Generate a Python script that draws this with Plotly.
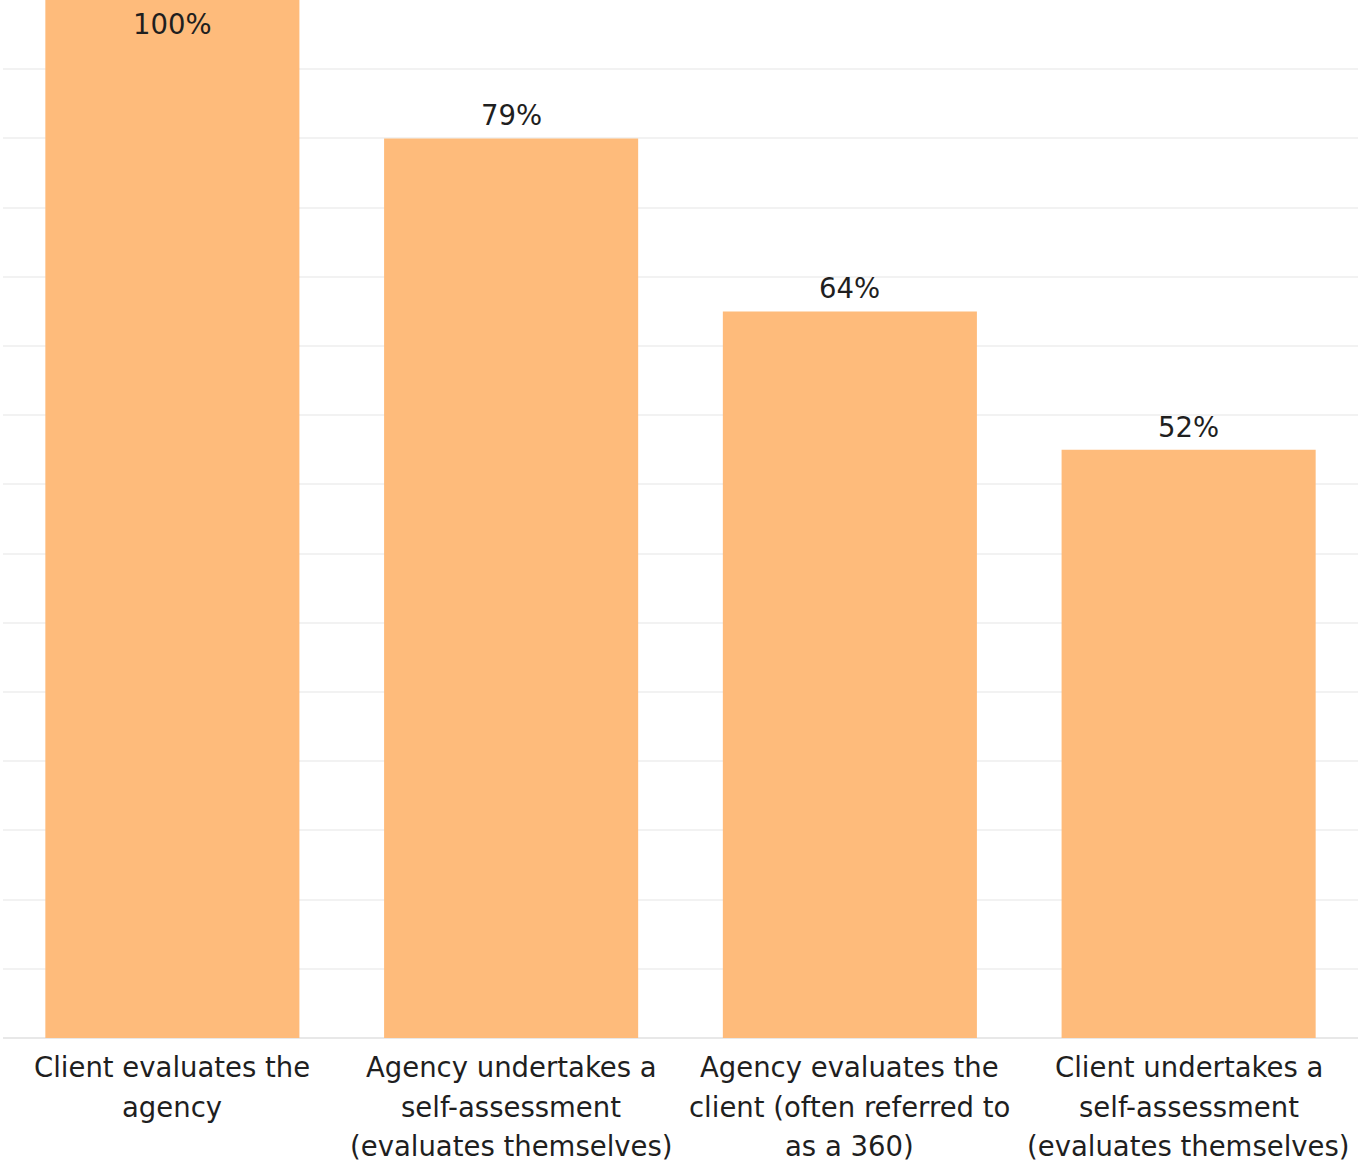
import plotly.graph_objects as go

categories = [
    "Client evaluates the<br>agency",
    "Agency undertakes a<br>self-assessment<br>(evaluates themselves)",
    "Agency evaluates the<br>client (often referred to<br>as a 360)",
    "Client undertakes a<br>self-assessment<br>(evaluates themselves)",
]
responses = [33, 26, 21, 17]
total = 33
labels = [f"{round(v / total * 100)}%" for v in responses]

Y_MAX = 30
BAR_COLOR = "#FEBB7B"
TEXT_COLOR = "#1f1f1f"
FONT = "DejaVu Sans"
LABEL_SIZE = 27.5
TICK_SIZE = 27.5
LINE_GAP = 39.5

fig = go.Figure(
    go.Bar(
        x=categories,
        y=responses,
        marker=dict(color=BAR_COLOR, line=dict(width=0)),
        hoverinfo="skip",
    )
)

for cat, v, lab in zip(categories, responses, labels):
    if v > Y_MAX:
        fig.add_annotation(x=cat, y=Y_MAX, text=lab, showarrow=False,
                           yanchor="middle", yshift=-24,
                           font=dict(family=FONT, size=LABEL_SIZE, color=TEXT_COLOR))
    else:
        fig.add_annotation(x=cat, y=v, text=lab, showarrow=False,
                           yanchor="middle", yshift=23,
                           font=dict(family=FONT, size=LABEL_SIZE, color=TEXT_COLOR))

# category labels, one annotation per line for Tableau-like line spacing
for cat in categories:
    for i, line in enumerate(cat.split("<br>")):
        fig.add_annotation(x=cat, y=0, text=line, showarrow=False,
                           yanchor="middle", yshift=-(29 + i * LINE_GAP),
                           font=dict(family=FONT, size=TICK_SIZE, color=TEXT_COLOR))

fig.update_layout(
    width=1358,
    height=1167,
    margin=dict(l=3, r=0, t=0, b=129),
    paper_bgcolor="white",
    plot_bgcolor="white",
    bargap=0.25,
    showlegend=False,
    font=dict(family=FONT, size=TICK_SIZE, color=TEXT_COLOR),
    xaxis=dict(
        showgrid=False,
        showline=False,
        ticks="",
        showticklabels=False,
        automargin=False,
    ),
    yaxis=dict(
        range=[0, Y_MAX],
        dtick=2,
        tick0=0,
        showticklabels=False,
        showgrid=True,
        gridcolor="#f2f2f2",
        gridwidth=2,
        zeroline=True,
        zerolinecolor="#e8e8e8",
        zerolinewidth=2,
        fixedrange=True,
    ),
)

fig.write_html("out.html")
